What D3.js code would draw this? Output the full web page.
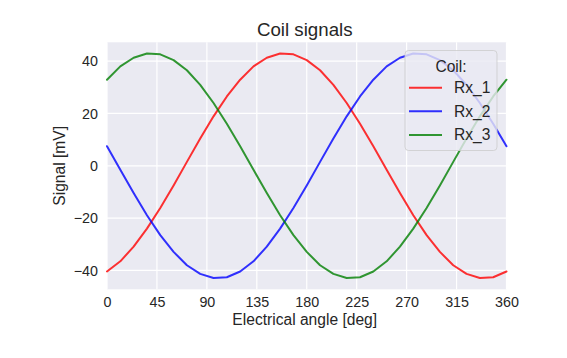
<!DOCTYPE html>
<html>
<head>
<meta charset="utf-8">
<script src="https://cdn.jsdelivr.net/npm/d3@7"></script>
<style>
html,body{margin:0;padding:0;background:#fff;}
svg{display:block;font-family:"Liberation Sans",Arial,sans-serif;}
</style>
</head>
<body>
<svg id="chart" width="567" height="358"></svg>
<script>
// Data (samples every 12 degrees)
const angles = d3.range(0, 361, 12);
const rx1 = [-40.4,-36.5,-30.9,-24.0,-16.1,-7.5,1.5,10.4,18.9,26.5,32.9,38.0,41.3,42.9,42.6,40.4,36.5,30.9,24.0,16.1,7.5,-1.5,-10.4,-18.9,-26.5,-32.9,-38.0,-41.3,-42.9,-42.6,-40.4];
const rx2 = [7.5,-1.5,-10.4,-18.9,-26.5,-32.9,-38.0,-41.3,-42.9,-42.6,-40.4,-36.5,-30.9,-24.0,-16.1,-7.5,1.5,10.4,18.9,26.5,32.9,38.0,41.3,42.9,42.6,40.4,36.5,30.9,24.0,16.1,7.5];
const rx3 = [32.9,38.0,41.3,42.9,42.6,40.4,36.5,30.9,24.0,16.1,7.5,-1.5,-10.4,-18.9,-26.5,-32.9,-38.0,-41.3,-42.9,-42.6,-40.4,-36.5,-30.9,-24.0,-16.1,-7.5,1.5,10.4,18.9,26.5,32.9];
const seriesNames = ["Rx_1","Rx_2","Rx_3"];
const seriesColors = ["#ff0000","#0000ff","#008000"];
const xTicks = [0,45,90,135,180,225,270,315,360];
const yTicks = [-40,-20,0,20,40];
const title = "Coil signals";
const xLabel = "Electrical angle [deg]";
const yLabel = "Signal [mV]";
const legendTitle = "Coil:";

const series = [rx1, rx2, rx3];
const svg = d3.select("#chart");
const L = 107, R = 506.5, T = 42.3, B = 289.3;
const x = d3.scaleLinear().domain([0, 360]).range([L, R]);
const y = d3.scaleLinear().domain([-47.2, 47.2]).range([B, T]);
const textColor = "#262626";

svg.append("rect").attr("x", L).attr("y", T).attr("width", R - L).attr("height", B - T).attr("fill", "#eaeaf2");

// grid
const g = svg.append("g");
g.selectAll(".vg").data(xTicks).join("line")
  .attr("x1", d => x(d)).attr("x2", d => x(d)).attr("y1", T).attr("y2", B)
  .attr("stroke", "#fff").attr("stroke-width", 1.2);
g.selectAll(".hg").data(yTicks).join("line")
  .attr("y1", d => y(d)).attr("y2", d => y(d)).attr("x1", L).attr("x2", R)
  .attr("stroke", "#fff").attr("stroke-width", 1.2);

// axes (no tick marks, just labels)
const xAxis = svg.append("g").attr("transform", `translate(0,${B})`)
  .call(d3.axisBottom(x).tickValues(xTicks).tickSize(0).tickPadding(8).tickFormat(d3.format("d")));
xAxis.select(".domain").remove();
xAxis.selectAll("text").attr("font-size", 14.3).attr("fill", textColor).attr("font-family", "Liberation Sans, Arial, sans-serif").attr("dy", "0.71em");

const yAxis = svg.append("g").attr("transform", `translate(${L},0)`)
  .call(d3.axisLeft(y).tickValues(yTicks).tickSize(0).tickPadding(9).tickFormat(d => d < 0 ? "\u2212" + Math.abs(d) : String(d)));
yAxis.select(".domain").remove();
yAxis.selectAll("text").attr("font-size", 14.3).attr("fill", textColor).attr("font-family", "Liberation Sans, Arial, sans-serif");

// lines
const line = d3.line().x((d, i) => x(angles[i])).y(d => y(d));
series.forEach((s, k) => {
  svg.append("path").datum(s).attr("d", line)
    .attr("fill", "none").attr("stroke", seriesColors[k]).attr("stroke-width", 2)
    .attr("stroke-opacity", 0.8).attr("stroke-linejoin", "round").attr("stroke-linecap", "round");
});

// title & labels
svg.append("text").attr("x", (L + R) / 2 - 2).attr("y", 36).attr("text-anchor", "middle")
  .attr("font-size", 18.7).attr("fill", textColor).text(title);
svg.append("text").attr("x", (L + R) / 2 - 2).attr("y", 325).attr("text-anchor", "middle")
  .attr("font-size", 15.6).attr("fill", textColor).text(xLabel);
svg.append("text").attr("transform", `translate(65,${(T + B) / 2}) rotate(-90)`).attr("text-anchor", "middle")
  .attr("font-size", 15.6).attr("fill", textColor).text(yLabel);

// legend
const lg = svg.append("g");
lg.append("rect").attr("x", 405).attr("y", 50.5).attr("width", 92).attr("height", 100).attr("rx", 3.5)
  .attr("fill", "#eaeaf2").attr("fill-opacity", 0.8).attr("stroke", "#cccccc").attr("stroke-opacity", 0.8).attr("stroke-width", 1);
lg.append("text").attr("x", 451).attr("y", 71.5).attr("text-anchor", "middle")
  .attr("font-size", 15.6).attr("fill", textColor).text(legendTitle);
seriesNames.forEach((n, k) => {
  const yy = 87.7 + k * 23.6;
  lg.append("line").attr("x1", 409).attr("x2", 442).attr("y1", yy).attr("y2", yy)
    .attr("stroke", seriesColors[k]).attr("stroke-width", 2).attr("stroke-opacity", 0.8);
  lg.append("text").attr("x", 454).attr("y", yy + 5.5).attr("font-size", 15.6).attr("fill", textColor).text(n);
});
</script>
</body>
</html>
